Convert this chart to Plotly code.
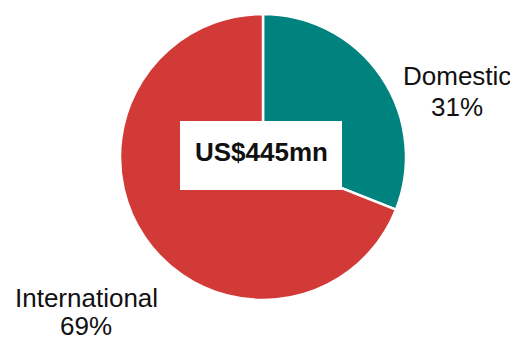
import plotly.graph_objects as go

segments = ["Domestic", "International"]
shares = [31, 69]
colors = ["#00827F", "#D13A36"]
center_text = "US$445mn"

OFF = 8  # page body margin
W, H = 518 - OFF, 337 - OFF


def fx(px):
    return (px - OFF) / W


def fy(py):
    return (H - (py - OFF)) / H


FONT = "Liberation Sans, Arial"

fig = go.Figure()
fig.add_trace(go.Pie(
    labels=segments,
    values=shares,
    sort=False,
    direction="clockwise",
    rotation=0,
    marker=dict(colors=colors, line=dict(color="white", width=2.5)),
    textinfo="none",
    hoverinfo="label+percent",
    showlegend=False,
    domain=dict(x=[fx(120), fx(406)], y=[fy(300), fy(14)]),
))

# white label box in the middle
fig.add_shape(type="rect", xref="paper", yref="paper",
              x0=fx(180), x1=fx(342), y0=fy(190), y1=fy(121),
              fillcolor="white", line=dict(width=0), layer="above")
fig.add_annotation(x=fx(261), y=fy(152), xref="paper", yref="paper",
                   xanchor="center", yanchor="middle",
                   text=f"<b>{center_text}</b>", showarrow=False,
                   font=dict(family=FONT, size=26, color="#111"))

# outside labels, one line each to keep the tight spacing
label_pos = {"Domestic": (457, 76, 107), "International": (86, 298, 326)}
for seg, pct in zip(segments, shares):
    x, y1, y2 = label_pos[seg]
    for txt, yy in ((seg, y1), (f"{pct}%", y2)):
        fig.add_annotation(x=fx(x), y=fy(yy), xref="paper", yref="paper",
                           xanchor="center", yanchor="middle",
                           text=txt, showarrow=False,
                           font=dict(family=FONT, size=26, color="#111"))

fig.update_layout(
    width=W, height=H,
    margin=dict(l=0, r=0, t=0, b=0),
    paper_bgcolor="white",
    plot_bgcolor="white",
)

fig.write_html("out.html")
